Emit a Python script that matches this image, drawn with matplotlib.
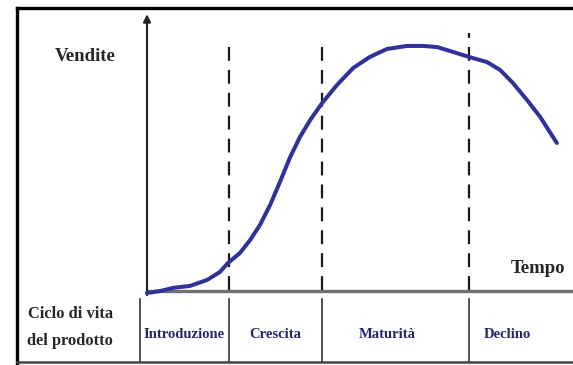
import matplotlib
matplotlib.use("Agg")
import matplotlib.pyplot as plt
from matplotlib.lines import Line2D

plt.rcParams["lines.scale_dashes"] = False

# Product life cycle: time (0-100) vs sales (0-100)
tempo = [0, 3.1, 6.1, 10.1, 14.1, 17.1, 19.0, 21.8, 24.2, 26.5, 28.9,
         31.2, 33.6, 35.9, 38.3, 41.1, 44.6, 48.4, 52.3, 56.3, 61.0,
         64.8, 68.1, 71.8, 75.6, 79.8, 82.9, 85.9, 89.2, 92.3, 96.2]
vendite = [-0.7, 0.0, 1.1, 1.8, 3.9, 6.7, 9.9, 13.4, 18.0, 23.3, 30.4,
           38.5, 47.3, 54.4, 60.4, 66.4, 72.8, 78.8, 82.7, 85.5, 86.6,
           86.6, 86.2, 84.5, 82.7, 80.9, 78.1, 73.5, 67.5, 61.5, 52.3]

# Phase boundaries along the time axis and the phase names
confini = [19.2, 41.1, 75.6]
inizio_tabella = -1.6
fasi = ["Introduzione", "Crescita", "Maturità", "Declino"]
pos_fasi = [8.7, 30.2, 56.3, 84.7]
fine_tratteggio = [88.0, 88.0, 91.2]

W, H = 573, 365
fig = plt.figure(figsize=(W / 100, H / 100), dpi=100)
fig.patch.set_facecolor("white")


def fx(px):
    return px / W


def fy(py):
    return 1 - py / H


# Main chart area: from the sales axis to the right edge, time axis to top
ax = fig.add_axes([fx(147), fy(291), fx(573) - fx(147), fy(8) - fy(291)])
ax.set_xlim(0, 100)
ax.set_ylim(0, 100)
ax.axis("off")

# Table row with the phase names, sharing the time scale
tab = fig.add_axes([fx(147), fy(362), fx(573) - fx(147), fy(300) - fy(362)],
                   sharex=ax)
tab.set_ylim(0, 1)
tab.axis("off")

serif = ["Liberation Serif", "DejaVu Serif"]

# Time axis (grey) and sales axis with arrow
ax.plot([0, 100], [0, 0], color="#707070", lw=2.4, clip_on=False,
        solid_capstyle="butt", zorder=2)
ax.annotate("", xy=(0, 97.8), xytext=(0, -1.5),
            arrowprops=dict(arrowstyle="-|>", color="#222222", lw=1.5,
                            mutation_scale=11, shrinkA=0, shrinkB=0),
            annotation_clip=False)

# Dashed phase boundaries
for c, top in zip(confini, fine_tratteggio):
    ax.plot([c, c], [0.5, top], color="#1a1a1a", lw=1.6,
            dashes=(10, 6.5), clip_on=False, zorder=2)

# Sales curve
ax.plot(tempo, vendite, color="#31319b", lw=2.9, clip_on=False,
        solid_joinstyle="round", solid_capstyle="round", zorder=3)

ax.text(-14.6, 82.7, "Vendite", family=serif, fontweight="bold",
        fontsize=13.5, color="#262626", ha="center", va="center")
ax.text(91.8, 8.1, "Tempo", family=serif, fontweight="bold",
        fontsize=13.5, color="#262626", ha="center", va="center")

# Table separators and labels
for c in [inizio_tabella] + confini:
    tab.plot([c, c], [0, 1.02], color="#333333", lw=1.2, clip_on=False)
for nome, p in zip(fasi, pos_fasi):
    tab.text(p, 0.44, nome, family=serif, fontweight="bold", fontsize=10.5,
             color="#25256a", ha="center", va="center")
tab.text(-18, 0.78, "Ciclo di vita", family=serif, fontweight="bold",
         fontsize=11.8, color="#262626", ha="center", va="center")
tab.text(-18, 0.34, "del prodotto", family=serif, fontweight="bold",
         fontsize=11.8, color="#262626", ha="center", va="center")

# Outer frame: top, left and bottom borders
fig.add_artist(Line2D([fx(17), fx(573)], [fy(8), fy(8)], color="black",
                      lw=2.4, transform=fig.transFigure))
fig.add_artist(Line2D([fx(17), fx(17)], [fy(8), fy(363)], color="black",
                      lw=2.4, transform=fig.transFigure))
fig.add_artist(Line2D([fx(17), fx(573)], [fy(362), fy(362)], color="#444444",
                      lw=1.8, transform=fig.transFigure))

fig.savefig("out.png", dpi=100, facecolor="white")
